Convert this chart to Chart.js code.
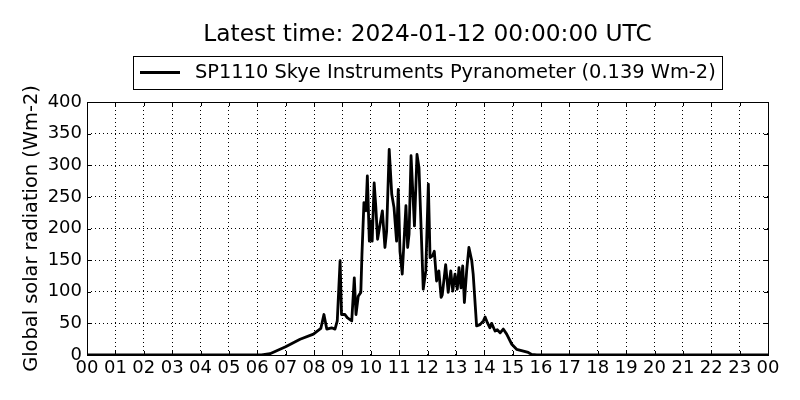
<!DOCTYPE html>
<html><head><meta charset="utf-8">
<script src="https://cdn.jsdelivr.net/npm/chart.js@4"></script>
<style>html,body{margin:0;padding:0;background:#fff}#wrap{width:800px;height:400px}</style>
</head><body><div id="wrap"><canvas id="c" width="800" height="400"></canvas></div>
<script>
const titleText = "Latest time: 2024-01-12 00:00:00 UTC";
const seriesLabel = "SP1110 Skye Instruments Pyranometer (0.139 Wm-2)";
const yAxisLabel = "Global solar radiation (Wm-2)";
const xTickLabels = ["00","01","02","03","04","05","06","07","08","09","10","11","12","13","14","15","16","17","18","19","20","21","22","23","00"];
const yTickValues = [0,50,100,150,200,250,300,350,400];

const hours = [0,1,2,3,4,5,6,6.15,6.45,7.0,7.51,7.98,8.24,8.35,8.45,8.62,8.74,8.82,8.92,8.97,9.09,9.17,9.33,9.42,9.48,9.56,9.65,9.69,9.76,9.83,9.88,9.95,10.0,10.05,10.12,10.18,10.24,10.33,10.41,10.5,10.56,10.65,10.74,10.82,10.91,10.97,11.03,11.11,11.24,11.3,11.35,11.42,11.54,11.63,11.7,11.85,11.94,12.03,12.09,12.18,12.24,12.32,12.4,12.48,12.52,12.64,12.73,12.82,12.89,12.97,13.05,13.11,13.18,13.24,13.3,13.38,13.46,13.56,13.61,13.73,13.85,13.97,14.03,14.11,14.2,14.26,14.38,14.46,14.56,14.67,14.79,14.97,15.14,15.38,15.55,15.67,15.85,16,17,18,19,20,21,22,23,24];
const radiation = [0,0,0,0,0,0,0,0,2,13,25,33,42,64,41,43,41,54,149,64,64,59,54,122,64,93,99,159,241,228,283,180,212,180,272,233,183,207,228,170,196,325,254,233,180,262,164,128,236,170,191,315,204,317,296,104,133,270,154,157,164,117,133,91,95,143,99,133,101,128,104,138,106,141,83,133,170,149,128,46,48,54,60,51,43,50,38,40,35,41,33,17,9,6,4,1,0,0,0,0,0,0,0,0,0,0];

const frameAndDecor = {
  id: 'frameAndDecor',
  afterDraw(chart) {
    const ctx = chart.ctx;
    const a = chart.chartArea;
    const xs = chart.scales.x, ys = chart.scales.y;
    ctx.save();
    ctx.setLineDash([]);
    ctx.strokeStyle = '#000';
    ctx.lineWidth = 1;
    const tl = 4;
    ctx.beginPath();
    for (let i = 0; i < xTickLabels.length; i++) {
      const px = Math.round(xs.getPixelForValue(i)) + 0.5;
      ctx.moveTo(px, a.bottom); ctx.lineTo(px, a.bottom - tl);
      ctx.moveTo(px, a.top); ctx.lineTo(px, a.top + tl);
    }
    for (const v of yTickValues) {
      const py = Math.round(ys.getPixelForValue(v)) + 0.5;
      ctx.moveTo(a.left, py); ctx.lineTo(a.left + tl, py);
      ctx.moveTo(a.right, py); ctx.lineTo(a.right - tl, py);
    }
    ctx.stroke();
    ctx.strokeRect(Math.round(a.left) + 0.5, Math.round(a.top) + 0.5, Math.round(a.right - a.left), Math.round(a.bottom - a.top));
    ctx.fillStyle = '#000';
    ctx.textAlign = 'center';
    ctx.textBaseline = 'middle';
    ctx.font = '23.3px "DejaVu Sans"';
    ctx.fillText(titleText, (a.left + a.right) / 2, 35);
    const lx = 133, ly = 56, lw = 589, lh = 33;
    ctx.fillStyle = '#fff';
    ctx.fillRect(lx, ly, lw, lh);
    ctx.strokeStyle = '#000';
    ctx.lineWidth = 1;
    ctx.strokeRect(lx + 0.5, ly + 0.5, lw, lh);
    ctx.lineWidth = 2.8;
    ctx.beginPath();
    ctx.moveTo(140, 72.5); ctx.lineTo(180, 72.5);
    ctx.stroke();
    ctx.fillStyle = '#000';
    ctx.textAlign = 'left';
    ctx.font = '19.4px "DejaVu Sans"';
    ctx.fillText(chart.data.datasets[0].label, 195, 73);
    ctx.restore();
  }
};

new Chart(document.getElementById('c'), {
  type: 'line',
  data: {
    datasets: [{
      label: seriesLabel,
      data: hours.map((h, i) => ({x: h, y: radiation[i]})),
      borderColor: '#000',
      borderWidth: 2.8,
      borderJoinStyle: 'round',
      borderCapStyle: 'round',
      pointRadius: 0,
      tension: 0,
      fill: false
    }]
  },
  options: {
    responsive: false,
    animation: false,
    devicePixelRatio: 1,
    layout: {padding: {top: 102, right: 32, left: 0, bottom: 0}},
    plugins: {legend: {display: false}, title: {display: false}, tooltip: {enabled: false}},
    scales: {
      x: {
        type: 'linear', min: 0, max: 24,
        afterFit(s) { s.height = 45; },
        afterBuildTicks(s) { s.ticks = xTickLabels.map((_, i) => ({value: i})); },
        ticks: {
          autoSkip: false, maxRotation: 0, padding: 3, color: '#000',
          font: {family: '"DejaVu Sans"', size: 18},
          callback: (v) => xTickLabels[v]
        },
        grid: {color: '#000', lineWidth: 1, drawTicks: false},
        border: {display: false, dash: [1, 3]}
      },
      y: {
        min: 0, max: 400,
        afterFit(s) { s.width = 87; },
        afterBuildTicks(s) { s.ticks = yTickValues.map(v => ({value: v})); },
        ticks: {
          padding: 5, color: '#000',
          font: {family: '"DejaVu Sans"', size: 18}
        },
        grid: {color: '#000', lineWidth: 1, drawTicks: false},
        border: {display: false, dash: [1, 3]},
        title: {
          display: true, text: yAxisLabel, color: '#000',
          font: {family: '"DejaVu Sans"', size: 19.4},
          padding: {top: 20, bottom: 0}
        }
      }
    }
  },
  plugins: [frameAndDecor]
});
</script>
</body></html>
